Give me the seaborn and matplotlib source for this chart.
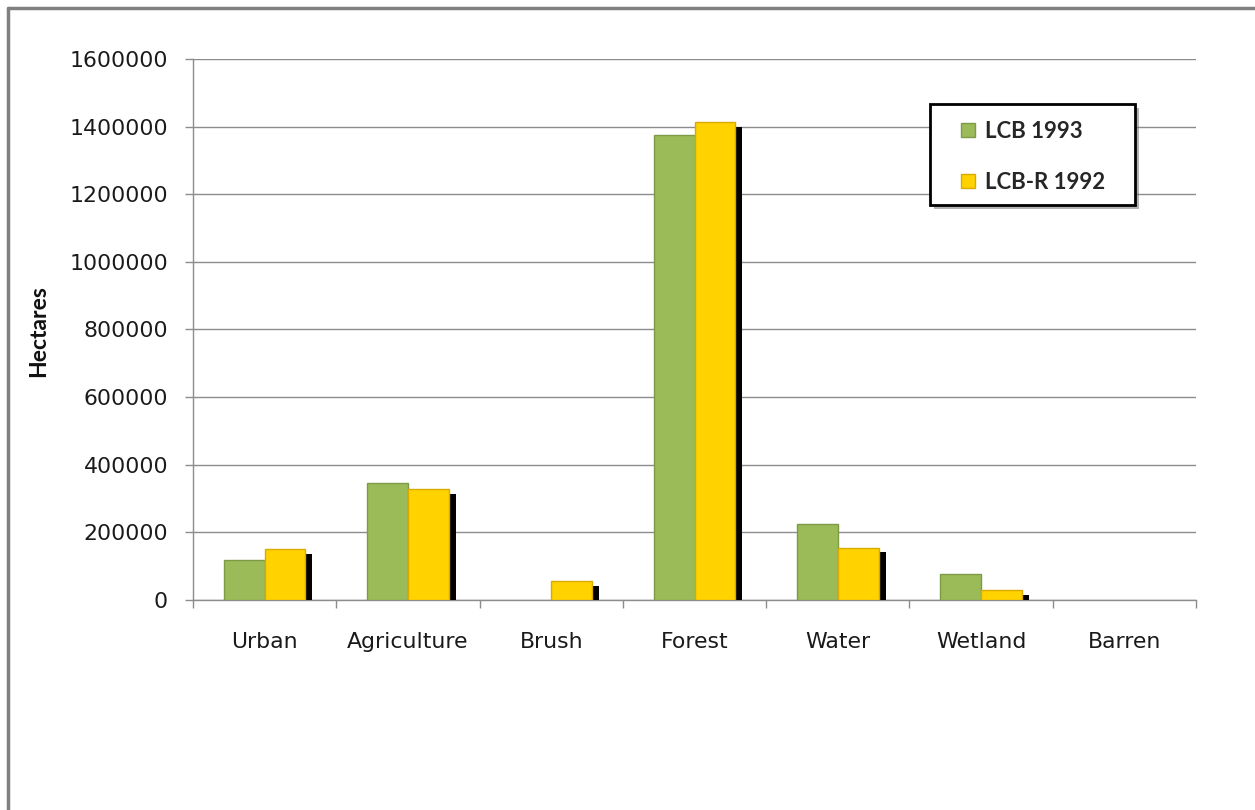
import matplotlib
matplotlib.use('Agg')
import matplotlib.pyplot as plt
import matplotlib.patheffects as pe
from matplotlib.lines import Line2D
from matplotlib.patches import Rectangle
import numpy as np
import pandas as pd
import seaborn as sns

categories = ['Urban', 'Agriculture', 'Brush', 'Forest', 'Water', 'Wetland', 'Barren']
lcb_1993 = [117000, 347000, 0, 1375000, 225000, 76000, 0]
lcbr_1992 = [151000, 327000, 57000, 1414000, 155000, 30000, 0]
series_names = ['LCB 1993', 'LCB-R 1992']
y_ticks = [0, 200000, 400000, 600000, 800000, 1000000, 1200000, 1400000, 1600000]

df = pd.DataFrame({
    'category': categories * 2,
    'series': [series_names[0]] * len(categories) + [series_names[1]] * len(categories),
    'hectares': lcb_1993 + lcbr_1992,
})

sns.set_style('white')
plt.rcParams['font.family'] = ['DejaVu Sans']

W, H = 1255, 810
fig = plt.figure(figsize=(W / 100, H / 100), dpi=100)
ax = fig.add_axes([193 / W, 1 - 600 / H, 1003 / W, 541 / H])

palette = {'LCB 1993': '#9bbb59', 'LCB-R 1992': '#ffd200'}
edges = {'LCB 1993': '#7f9a45', 'LCB-R 1992': '#d9aa00'}

sns.barplot(data=df, x='category', y='hectares', hue='series', order=categories,
            hue_order=series_names, palette=palette, width=0.57, dodge=True,
            errorbar=None, ax=ax, legend=False, saturation=1, zorder=3)

n = len(categories)
for i, patch in enumerate(ax.patches[:2 * n]):
    name = series_names[i // n]
    if patch.get_height() <= 0:
        patch.set_visible(False)
        continue
    patch.set_edgecolor(edges[name])
    patch.set_linewidth(1.0)
    if name == 'LCB-R 1992':
        patch.set_path_effects([pe.SimplePatchShadow(offset=(5, -3.5), shadow_rgbFace='black', alpha=1.0),
                                pe.Normal()])

ax.set_xlim(-0.5, n - 0.5)
ax.set_ylim(0, 1600000)
ax.set_yticks(y_ticks)
ax.set_yticklabels([str(v) for v in y_ticks])
ax.yaxis.grid(True, color='#8c8c8c', linewidth=1.0, zorder=0)
ax.set_axisbelow(True)

for side in ['top', 'right']:
    ax.spines[side].set_visible(False)
for side in ['left', 'bottom']:
    ax.spines[side].set_color('#8c8c8c')
    ax.spines[side].set_linewidth(1.0)

# category labels at centres, tick marks at boundaries
ax.set_xticks(np.arange(n))
ax.set_xticks(np.arange(n + 1) - 0.5, minor=True)
ax.tick_params(axis='x', which='major', length=0, pad=23, labelsize=15.8, labelcolor='#1a1a1a')
ax.tick_params(axis='x', which='minor', length=6, width=1, color='#8c8c8c', bottom=True)
ax.tick_params(axis='y', length=6, width=1, color='#8c8c8c', left=True, pad=12,
               labelsize=15.8, labelcolor='#1a1a1a')

ax.set_xlabel('')
ax.set_ylabel('Hectares', fontsize=16.5, fontweight='bold', family='Lato', color='#111111')
ax.yaxis.set_label_coords(-0.143, 0.497)

# legend box drawn by hand so its padding matches the original
box = Rectangle((930 / W, 1 - 205 / H), 205 / W, 101 / H, transform=fig.transFigure,
                facecolor='white', edgecolor='black', linewidth=2, clip_on=False, zorder=4)
box.set_path_effects([pe.SimplePatchShadow(offset=(3, -3), shadow_rgbFace='#666666', alpha=0.5),
                      pe.Normal()])
ax.add_artist(box)

handles = [Line2D([0], [0], marker='s', linestyle='', markersize=10,
                  markerfacecolor=palette[s], markeredgecolor=edges[s]) for s in series_names]
leg = ax.legend(handles, series_names, loc='upper left', bbox_to_anchor=(957 / W, 1 - 121 / H),
                bbox_transform=fig.transFigure, frameon=False,
                prop={'family': 'Lato', 'weight': 'bold', 'size': 16},
                labelspacing=1.35, borderpad=0, handletextpad=0.27, handlelength=1.0,
                borderaxespad=0)
leg.set_zorder(6)

# outer chart frame (top and left edges only visible)
fig.add_artist(Line2D([8 / W, 1], [1 - 8 / H, 1 - 8 / H], transform=fig.transFigure,
                      color='#808080', linewidth=2.5))
fig.add_artist(Line2D([8 / W, 8 / W], [0, 1 - 8 / H], transform=fig.transFigure,
                      color='#808080', linewidth=2.5))

fig.savefig('out.png', dpi=100)
plt.close(fig)
